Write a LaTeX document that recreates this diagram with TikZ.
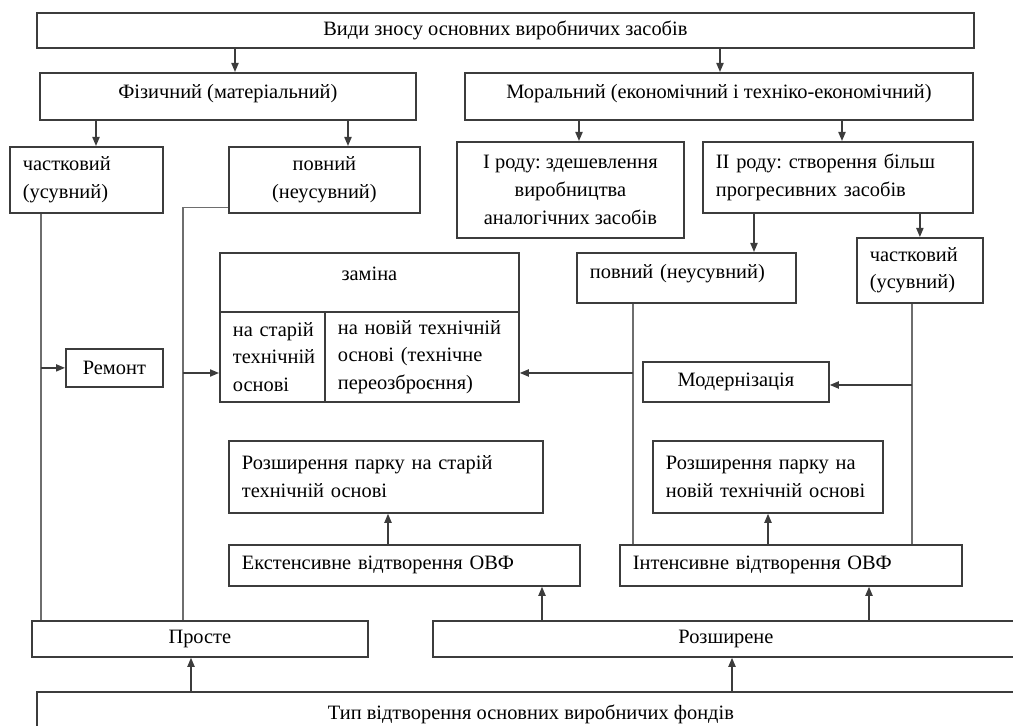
\documentclass[tikz,border=0pt]{standalone}
\usepackage{fontspec}
\setmainfont{Liberation Serif}
\frenchspacing
\usetikzlibrary{arrows.meta}
\definecolor{boxgray}{HTML}{3C3C3C}
\definecolor{linegray}{HTML}{6E6E6E}

\tikzset{
  box/.style={draw=boxgray, line width=0.9pt, anchor=north west, inner ysep=2pt,
    font=\fontsize{10.2pt}{13.8pt}\selectfont},
  cbox/.style 2 args={box, minimum width=#1*0.5pt, minimum height=#2*0.5pt,
    inner xsep=0pt, align=center},
  lbox/.code 2 args={%
    \pgfmathsetmacro\lboxtw{(#1-26)*0.5}%
    \pgfmathsetmacro\lboxht{#2*0.5}%
    \tikzset{box, text width=\lboxtw pt, minimum height=\lboxht pt,
      inner xsep=6.5pt, align=left}},
  con/.style={draw=linegray, line width=0.7pt},
  arr/.style={draw=boxgray, line width=0.7pt, -{Triangle[length=4.5pt,width=3.6pt]}},
}

\begin{document}
\begin{tikzpicture}[x=0.5pt, y=-0.5pt]
  \useasboundingbox (0,0) rectangle (1013,726);
  \clip (0,0) rectangle (1013,726);

  \node[cbox={937}{35}] (vydy) at (36,12) {Види зносу основних виробничих засобів};
  \node[cbox={376}{47}, text depth=5pt] (fiz) at (39,72) {Фізичний (матеріальний)};
  \node[cbox={508}{47}, text depth=5pt] (mor) at (464,72) {Моральний (економічний і техніко-економічний)};

  \node[lbox={153}{66}] (chast1) at (9,146) {частковий\\(усувний)};
  \node[cbox={191}{66}] (povn1) at (228,146) {повний\\(неусувний)};
  \node[cbox={227}{96}] (rid1) at (456,141) {І роду: здешевлення\\виробництва\\аналогічних засобів};
  \node[lbox={270}{71}] (rid2) at (702,141) {ІІ роду: створення більш\\прогресивних засобів};

  \node[lbox={219}{50}, text depth=6pt] (povn2) at (576,252) {повний (неусувний)};
  \node[lbox={126}{65}] (chast2) at (856,237) {частковий\\(усувний)};

  \node[cbox={97}{38}] (remont) at (65,348) {Ремонт};
  \node[cbox={299}{59}, text depth=9pt] (zam) at (219,252) {заміна};
  \node[lbox={105}{90}] (zold) at (219,311) {\mbox{на старій}\\\mbox{технічній}\\основі};
  \node[lbox={194}{90}] (znew) at (324,311) {на новій технічній\\основі (технічне\\переозброєння)};
  \node[cbox={186}{40}] (modern) at (642,361) {Модернізація};

  \node[lbox={314}{72}] (rozst) at (228,440) {Розширення парку на старій\\технічній основі};
  \node[lbox={230}{72}] (roznov) at (652,440) {Розширення парку на\\\mbox{новій технічній основі}};
  \node[lbox={351}{41}] (ekst) at (228,544) {Екстенсивне відтворення ОВФ};
  \node[lbox={342}{41}] (inten) at (619,544) {Інтенсивне відтворення ОВФ};

  \node[cbox={336}{36}] (proste) at (31,620) {Просте};
  \node[cbox={586}{36}] (rozsh) at (432,620) {Розширене};
  \node[cbox={988}{44}] (typ) at (36,691) {Тип відтворення основних виробничих фондів};

  \coordinate (jz) at (183,373);
  \coordinate (jn) at (633,373);
  \coordinate (jm) at (912,385);

  \draw[arr] (235,0 |- vydy.south) -- (235,0 |- fiz.north);
  \draw[arr] (720,0 |- vydy.south) -- (720,0 |- mor.north);
  \draw[arr] (96,0 |- fiz.south) -- (96,0 |- chast1.north);
  \draw[arr] (348,0 |- fiz.south) -- (348,0 |- povn1.north);
  \draw[arr] (579,0 |- mor.south) -- (579,0 |- rid1.north);
  \draw[arr] (842,0 |- mor.south) -- (842,0 |- rid2.north);
  \draw[arr] (754,0 |- rid2.south) -- (754,0 |- povn2.north);
  \draw[arr] (rid2.south -| chast2.north) -- (chast2.north);

  \draw[con] (41,0 |- chast1.south) -- (41,0 |- proste.north);
  \draw[arr] (41,0 |- remont.west) -- (remont.west);
  \draw[con] ([yshift=3pt]povn1.south west) -| (183,0 |- proste.north);
  \draw[arr] (jz) -- (jz -| zold.west);

  \draw[con] (633,0 |- povn2.south) -- (633,0 |- inten.north);
  \draw[arr] (jn) -- (jn -| znew.east);
  \draw[con] (912,0 |- chast2.south) -- (912,0 |- inten.north);
  \draw[arr] (jm) -- (jm -| modern.east);

  \draw[arr] (388,0 |- ekst.north) -- (388,0 |- rozst.south);
  \draw[arr] (768,0 |- inten.north) -- (768,0 |- roznov.south);
  \draw[arr] (542,0 |- rozsh.north) -- (542,0 |- ekst.south);
  \draw[arr] (869,0 |- rozsh.north) -- (869,0 |- inten.south);
  \draw[arr] (191,0 |- typ.north) -- (191,0 |- proste.south);
  \draw[arr] (732,0 |- typ.north) -- (732,0 |- rozsh.south);
\end{tikzpicture}
\end{document}
